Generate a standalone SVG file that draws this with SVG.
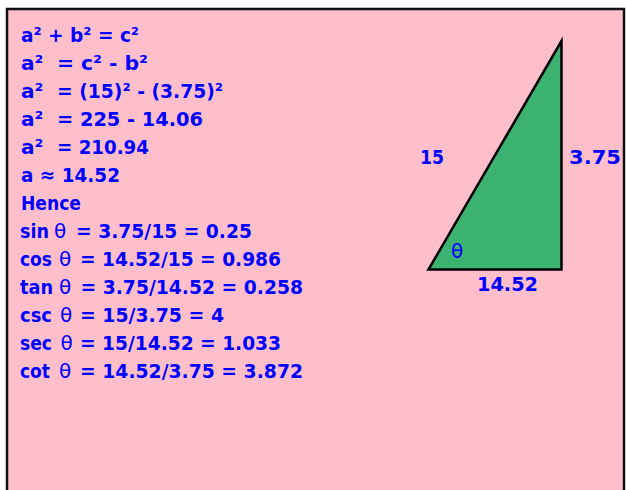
<svg xmlns="http://www.w3.org/2000/svg" width="626" height="490" viewBox="0 0 626 490">
<style>
  .t { font-family: "DejaVu Sans", "Liberation Sans", sans-serif; font-weight: bold; font-size: 20px; fill: #0000ff; }
  .th { font-family: "DejaVu Sans", "Liberation Sans", sans-serif; font-weight: normal; font-size: 20px; fill: #0000ff; }
</style>
<rect id="frame" x="7" y="9" width="617" height="495" fill="#ffbfca" stroke="#111" stroke-width="2.5"/>
<g id="working">
  <text class="t" x="21" y="42" textLength="118" lengthAdjust="spacingAndGlyphs">a² + b² = c²</text>
  <text class="t" x="21" y="70">a²</text>
  <text class="t" x="57" y="70" textLength="91" lengthAdjust="spacingAndGlyphs">= c² - b²</text>
  <text class="t" x="21" y="98">a²</text>
  <text class="t" x="57" y="98" textLength="166" lengthAdjust="spacingAndGlyphs">= (15)² - (3.75)²</text>
  <text class="t" x="21" y="126">a²</text>
  <text class="t" x="57" y="126" textLength="146" lengthAdjust="spacingAndGlyphs">= 225 - 14.06</text>
  <text class="t" x="21" y="154">a²</text>
  <text class="t" x="57" y="154" textLength="92" lengthAdjust="spacingAndGlyphs">= 210.94</text>
  <text class="t" x="21" y="182" textLength="99" lengthAdjust="spacingAndGlyphs">a ≈ 14.52</text>
  <text class="t" x="21" y="210" textLength="60" lengthAdjust="spacingAndGlyphs">Hence</text>
</g>
<g id="ratios">
  <text class="t" x="20" y="238" textLength="29" lengthAdjust="spacingAndGlyphs">sin</text>
  <text class="th" x="54" y="238">θ</text>
  <text class="t" x="76" y="238" textLength="176" lengthAdjust="spacingAndGlyphs">= 3.75/15 = 0.25</text>
  <text class="t" x="20" y="266" textLength="32" lengthAdjust="spacingAndGlyphs">cos</text>
  <text class="th" x="59" y="266">θ</text>
  <text class="t" x="80" y="266" textLength="201" lengthAdjust="spacingAndGlyphs">= 14.52/15 = 0.986</text>
  <text class="t" x="20" y="294" textLength="33" lengthAdjust="spacingAndGlyphs">tan</text>
  <text class="th" x="59" y="294">θ</text>
  <text class="t" x="80.5" y="294" textLength="222.5" lengthAdjust="spacingAndGlyphs">= 3.75/14.52 = 0.258</text>
  <text class="t" x="20" y="322" textLength="32" lengthAdjust="spacingAndGlyphs">csc</text>
  <text class="th" x="60" y="322">θ</text>
  <text class="t" x="80" y="322" textLength="144" lengthAdjust="spacingAndGlyphs">= 15/3.75 = 4</text>
  <text class="t" x="20" y="350" textLength="32" lengthAdjust="spacingAndGlyphs">sec</text>
  <text class="th" x="60.5" y="350">θ</text>
  <text class="t" x="80" y="350" textLength="201" lengthAdjust="spacingAndGlyphs">= 15/14.52 = 1.033</text>
  <text class="t" x="20" y="378" textLength="30" lengthAdjust="spacingAndGlyphs">cot</text>
  <text class="th" x="59" y="378">θ</text>
  <text class="t" x="80" y="378" textLength="223" lengthAdjust="spacingAndGlyphs">= 14.52/3.75 = 3.872</text>
</g>
<g id="triangle">
  <polygon points="428.5,269.5 561.5,41 561.5,269.5" fill="#3cb371" stroke="#000" stroke-width="2.5" stroke-linejoin="miter"/>
  <text class="th" x="451" y="258" font-size="21">θ</text>
</g>
<g id="labels">
  <text class="t" x="420" y="164" textLength="24" lengthAdjust="spacingAndGlyphs">15</text>
  <text class="t" x="569" y="164" textLength="52" lengthAdjust="spacingAndGlyphs">3.75</text>
  <text class="t" x="477" y="291" textLength="61" lengthAdjust="spacingAndGlyphs">14.52</text>
</g>
</svg>
